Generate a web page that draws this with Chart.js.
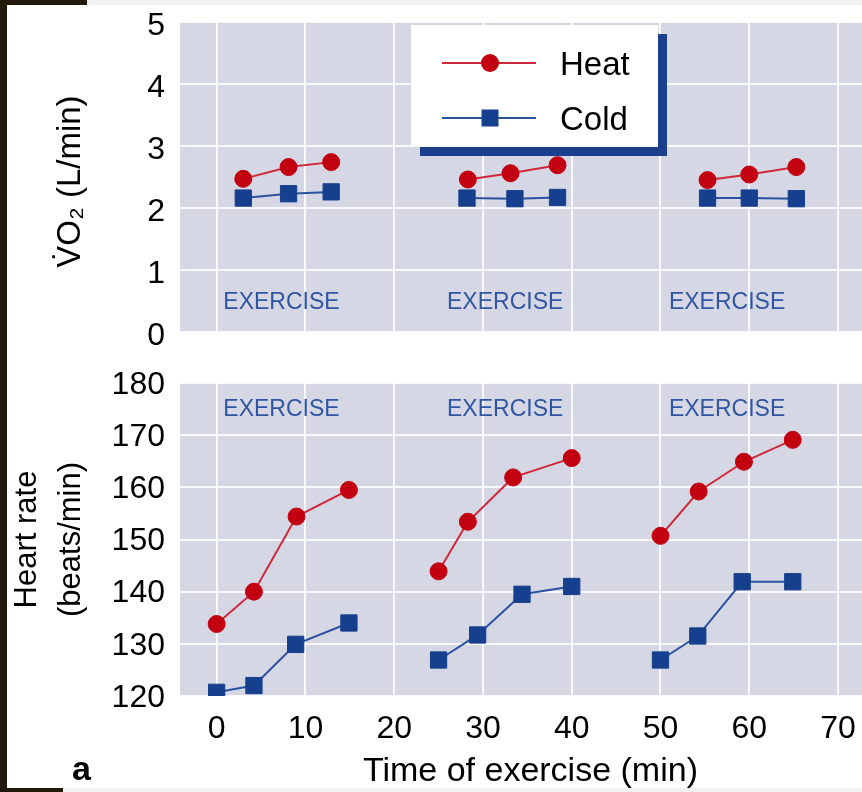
<!DOCTYPE html>
<html>
<head>
<meta charset="utf-8">
<script src="https://cdn.jsdelivr.net/npm/chart.js@4"></script>
<style>
  body { margin: 0; background: #fff; }
  #page { position: relative; width: 862px; height: 792px; overflow: hidden; background: #fff; font-family: 'Liberation Sans', Arial, sans-serif; }
  canvas { position: absolute; left: 0; }
  .bar { position: absolute; }
  #legend { position: absolute; left: 411px; top: 25px; width: 247px; height: 122px; background: #fff; box-shadow: 9px 9px 0 0 #1b3f8e; }
  #legend .txt { position: absolute; left: 149px; font-size: 33px; line-height: 33px; color: #000; }
  #panel { position: absolute; left: 72px; top: 751px; font-size: 34px; line-height: 34px; font-weight: bold; }
</style>
</head>
<body>
<div id="page">
  <canvas id="vo2Chart" width="862" height="345" style="top:0"></canvas>
  <canvas id="hrChart" width="862" height="447" style="top:345px"></canvas>

  <div id="legend">
    <svg width="247" height="122" style="position:absolute;left:0;top:0">
      <line x1="31" y1="38" x2="125" y2="38" stroke="#d0283a" stroke-width="2"/>
      <circle cx="79" cy="38" r="9" fill="#c2000f"/>
      <line x1="31" y1="93" x2="125" y2="93" stroke="#2b52a0" stroke-width="2"/>
      <rect x="70.5" y="84.5" width="17" height="17" fill="#163f8d"/>
    </svg>
    <div class="txt" style="top:22px">Heat</div>
    <div class="txt" style="top:77px">Cold</div>
  </div>

  <div id="panel">a</div>

  <!-- frame edges of the scanned figure -->
  <div class="bar" style="left:0;top:0;width:7px;height:792px;background:#241a0b"></div>
  <div class="bar" style="left:0;top:0;width:87px;height:5px;background:#241a0b"></div>
  <div class="bar" style="left:87px;top:0;width:775px;height:5px;background:#f1f1ef"></div>
  <div class="bar" style="left:0;top:788px;width:63px;height:4px;background:#241a0b"></div>
  <div class="bar" style="left:63px;top:788px;width:799px;height:4px;background:#f1f1ef"></div>
</div>

<script>
// time of exercise (min), one sub-array per exercise bout
var vo2HeatTime = [[3.0, 8.1, 12.9], [28.3, 33.1, 38.4], [55.3, 60.0, 65.3]];
var vo2Heat = [[2.47, 2.66, 2.74], [2.46, 2.56, 2.69], [2.45, 2.54, 2.66]];
var vo2ColdTime = [[3.0, 8.1, 12.9], [28.2, 33.6, 38.4], [55.3, 60.0, 65.3]];
var vo2Cold = [[2.16, 2.23, 2.26], [2.16, 2.15, 2.17], [2.16, 2.16, 2.15]];

var hrHeatTime = [[0, 4.2, 9.0, 14.9], [25.0, 28.3, 33.4, 40.0], [50.0, 54.3, 59.4, 64.9]];
var hrHeat = [[133.8, 140.0, 154.4, 159.5], [143.9, 153.4, 161.9, 165.6], [150.7, 159.2, 164.9, 169.1]];
var hrColdTime = [[0, 4.2, 8.9, 14.9], [25.0, 29.4, 34.4, 40.0], [50.0, 54.2, 59.2, 64.9]];
var hrCold = [[120.7, 122.0, 129.9, 134.0], [126.9, 131.7, 139.5, 141.0], [126.9, 131.5, 141.9, 141.9]];

var boutLabel = 'EXERCISE';
var boutCenter = [7.3, 32.5, 57.5];

var FONT = "'Liberation Sans', 'DejaVu Sans', Arial, sans-serif";
var heatColor = '#c2000f', heatLine = '#d0283a';
var coldColor = '#163f8d', coldLine = '#2b52a0';
var plotBg = '#d5d7e4';
var gridColor = 'rgba(255,255,255,0.85)';

function toPoints(xs, ys) {
  return xs.map(function(x, i) { return {x: x, y: ys[i]}; });
}

function buildSets(heatX, heatY, coldX, coldY) {
  var sets = [];
  heatX.forEach(function(xs, b) {
    sets.push({
      label: 'Heat', data: toPoints(xs, heatY[b]),
      borderColor: heatLine, borderWidth: 2,
      pointStyle: 'circle', pointRadius: 8.5, pointBorderWidth: 1,
      pointBackgroundColor: heatColor, pointBorderColor: heatColor
    });
  });
  coldX.forEach(function(xs, b) {
    sets.push({
      label: 'Cold', data: toPoints(xs, coldY[b]),
      borderColor: coldLine, borderWidth: 2,
      pointStyle: 'rect', pointRadius: 11.5, pointBorderWidth: 1,
      pointBackgroundColor: coldColor, pointBorderColor: coldColor
    });
  });
  return sets;
}

// plot background + "EXERCISE" labels
function panelPlugin(labelValue) {
  return {
    id: 'panelDeco',
    beforeDraw: function(chart) {
      var a = chart.chartArea, ctx = chart.ctx;
      ctx.save();
      ctx.fillStyle = plotBg;
      ctx.fillRect(a.left, a.top, a.right - a.left, a.bottom - a.top);
      ctx.restore();
    },
    beforeDatasetsDraw: function(chart) {
      var ctx = chart.ctx, xs = chart.scales.x, ys = chart.scales.y;
      ctx.save();
      ctx.font = '23px ' + FONT;
      ctx.fillStyle = '#2f55a3';
      ctx.textAlign = 'center';
      ctx.textBaseline = 'middle';
      boutCenter.forEach(function(c) {
        ctx.fillText(boutLabel, xs.getPixelForValue(c), ys.getPixelForValue(labelValue));
      });
      ctx.restore();
    }
  };
}

var xMin = -4.13, xMax = 72.7;

new Chart(document.getElementById('vo2Chart'), {
  type: 'line',
  data: { datasets: buildSets(vo2HeatTime, vo2Heat, vo2ColdTime, vo2Cold) },
  options: {
    responsive: false, animation: false, devicePixelRatio: 1,
    layout: { autoPadding: false, padding: { top: 22, bottom: 13, left: 0, right: 0 } },
    plugins: { legend: { display: false }, tooltip: { enabled: false } },
    scales: {
      x: {
        type: 'linear', min: xMin, max: xMax,
        ticks: { stepSize: 10, includeBounds: false, display: false },
        grid: { color: gridColor, lineWidth: 2, drawTicks: false },
        border: { display: false },
        afterFit: function(s) { s.height = 0; s.paddingLeft = 0; s.paddingRight = 0; }
      },
      y: {
        min: 0, max: 5,
        ticks: { stepSize: 1, padding: 15, labelOffset: 4, color: '#000', font: { family: FONT, size: 32 } },
        grid: { color: gridColor, lineWidth: 2, drawTicks: false },
        border: { display: false },
        title: {
          display: true, text: 'V\u0307O\u2082 (L/min) ', color: '#000',
          font: { family: FONT, size: 33, lineHeight: 1.4 }, padding: { top: 48, bottom: 0 }
        },
        afterFit: function(s) { s.width = 180; s.paddingTop = 0; s.paddingBottom = 0; }
      }
    }
  },
  plugins: [panelPlugin(0.48)]
});

new Chart(document.getElementById('hrChart'), {
  type: 'line',
  data: { datasets: buildSets(hrHeatTime, hrHeat, hrColdTime, hrCold) },
  options: {
    responsive: false, animation: false, devicePixelRatio: 1,
    layout: { autoPadding: false, padding: { top: 38, bottom: 0, left: 0, right: 0 } },
    plugins: { legend: { display: false }, tooltip: { enabled: false } },
    scales: {
      x: {
        type: 'linear', min: xMin, max: xMax,
        ticks: { stepSize: 10, includeBounds: false, padding: 14, maxRotation: 0, color: '#000', font: { family: FONT, size: 32 } },
        grid: { color: gridColor, lineWidth: 2, drawTicks: false },
        border: { display: false },
        title: {
          display: true, text: '  Time of exercise (min)', color: '#000',
          font: { family: FONT, size: 34 }, padding: { top: 0, bottom: 0 }
        },
        afterFit: function(s) { s.height = 96; s.paddingLeft = 0; s.paddingRight = 0; }
      },
      y: {
        min: 120, max: 180,
        ticks: { stepSize: 10, padding: 15, labelOffset: 2, color: '#000', font: { family: FONT, size: 32 } },
        grid: { color: gridColor, lineWidth: 2, drawTicks: false },
        border: { display: false },
        title: {
          display: true, text: ['Heart rate', '(beats/min)'], color: '#000',
          font: { family: FONT, size: 31, lineHeight: 1.4 }, padding: { top: 6, bottom: 0 }
        },
        afterFit: function(s) { s.width = 180; s.paddingTop = 0; s.paddingBottom = 0; }
      }
    }
  },
  plugins: [panelPlugin(174.8)]
});
</script>
</body>
</html>
